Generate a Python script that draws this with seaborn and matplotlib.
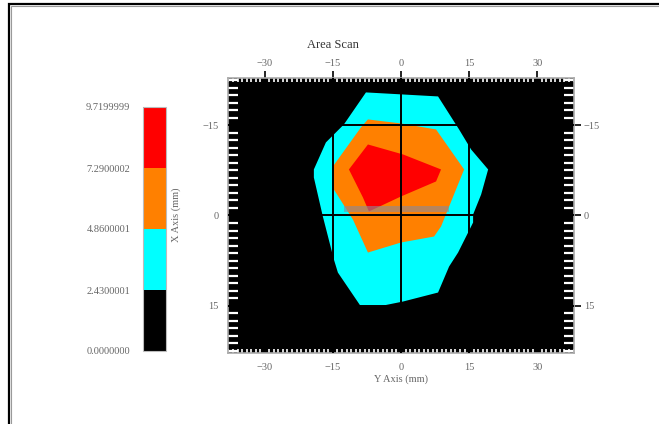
import numpy as np
import matplotlib
matplotlib.use("Agg")
import matplotlib.pyplot as plt
import matplotlib.colors as mcolors
from matplotlib.ticker import MultipleLocator, FixedLocator
from matplotlib.patches import Rectangle
import seaborn as sns

# ---- data (mm) ----
level_bounds = [0.0, 2.4300001, 4.8600001, 7.2900002, 9.7199999]
level_labels = ["0.0000000", "2.4300001", "4.8600001", "7.2900002", "9.7199999"]
level_colors = ["#000000", "#00FFFF", "#FF8000", "#FF0000"]

# contour region outlines (Y axis value, X axis value)
cyan_y = [-7.72, 8.16, 12.79, 15.44, 19.19, 17.65, 15.88, 15.88, 12.57, 10.59, 8.16,
          0.44, -5.07, -8.82, -13.9, -14.78, -17.21, -19.19, -19.19, -16.54, -12.57]
cyan_x = [-20.5, -19.83, -14.33, -11.0, -7.67, -3.5, -0.17, 1.17, 6.17, 8.5, 12.83,
          14.33, 15.17, 15.17, 9.5, 7.33, 0.17, -6.33, -7.67, -12.17, -15.17]

orange_y = [-7.28, 0.0, 7.72, 13.90, 8.82, 7.28, 0.0, -7.28, -10.59, -14.78, -15.0, -8.82]
orange_x = [-16.0, -15.33, -14.33, -7.67, 1.83, 3.5, 4.5, 6.17, 0.67, -4.33, -8.17, -14.67]

red_y = [-7.28, 0.44, 8.82, 7.72, 0.0, -7.06, -8.38, -11.47]
red_x = [-11.83, -10.17, -7.67, -5.67, -3.17, -0.67, -3.0, -7.67]

band_y = [-12.6, 10.6]
band_x = [-1.6, -0.6]

xticks = [-30, -15, 0, 15, 30]
yticks = [-15, 0, 15]

sns.set_theme(style="white")
plt.rcParams['font.family'] = ['Liberation Serif', 'DejaVu Serif']

W, H = 659, 424
fig = plt.figure(figsize=(W / 100, H / 100), dpi=100)
fig.patch.set_facecolor("white")

# window-like frame
fig.patches.append(Rectangle((9 / W, -0.1), 1.2, (H - 4) / H + 0.1, transform=fig.transFigure,
                             fill=False, edgecolor="black", linewidth=1.6, zorder=0))
fig.patches.append(Rectangle((11 / W, -0.1), 1.2, (H - 6) / H + 0.1, transform=fig.transFigure,
                             fill=False, edgecolor="#9a9a9a", linewidth=0.8, zorder=0))

tc = "#666666"

# ---- main axes ----
ax = fig.add_axes([228 / W, (H - 353) / H, 346 / W, 275 / H])
ax.set_facecolor(level_colors[0])
ax.fill(cyan_y, cyan_x, color=level_colors[1], lw=0, zorder=1)
ax.fill(orange_y, orange_x, color=level_colors[2], lw=0, zorder=2)
ax.fill(red_y, red_x, color=level_colors[3], lw=0, zorder=3)
ax.add_patch(Rectangle((band_y[0], band_x[0]), band_y[1] - band_y[0], band_x[1] - band_x[0],
                       facecolor="#8a8a9a", alpha=0.6, lw=0, zorder=4))
for v in yticks:
    ax.axhline(v, color="black", lw=1.4, zorder=5)
for v in [-15, 0, 15]:
    ax.axvline(v, color="black", lw=1.4, zorder=5)

ax.set_xlim(-38.1, 38.1)
ax.set_ylim(22.9, -22.9)
ax.xaxis.set_major_locator(FixedLocator(xticks))
ax.yaxis.set_major_locator(FixedLocator(yticks))
ax.xaxis.set_minor_locator(MultipleLocator(1))
ax.yaxis.set_minor_locator(MultipleLocator(1.25))
ax.tick_params(which="major", direction="out", length=5, width=1.2, color="black",
               labelsize=7.5, labelcolor=tc, top=True, right=True,
               labeltop=True, labelright=True, pad=2)
ax.tick_params(which="minor", direction="in", color="white", top=True, right=True,
               bottom=True, left=True)
ax.tick_params(axis="x", which="minor", length=3, width=1.2)
ax.tick_params(axis="y", which="minor", length=7, width=1.6)
for s in ax.spines.values():
    s.set_color("#aaaaaa")
    s.set_linewidth(1.2)
ax.set_xlabel("Y Axis (mm)", fontsize=7.5, color=tc, labelpad=2)

fig.text(333 / W, 1 - 45 / H, "Area Scan", fontsize=9, color="#333333",
         ha="center", va="center")
fig.text(176 / W, 1 - 215 / H, "X Axis (mm)", rotation=90, fontsize=7.5, color=tc,
         ha="center", va="center")

# ---- colour bar ----
cax = fig.add_axes([143 / W, (H - 351) / H, 23 / W, 244 / H])
cmap = mcolors.ListedColormap(level_colors)
norm = mcolors.BoundaryNorm(level_bounds, cmap.N)
cb = matplotlib.colorbar.ColorbarBase(cax, cmap=cmap, norm=norm, ticks=level_bounds,
                                      orientation="vertical")
cax.yaxis.set_ticks_position("left")
cax.set_yticklabels(level_labels)
cax.tick_params(length=0, labelsize=7.5, labelcolor=tc, pad=9)
cb.outline.set_edgecolor("#bbbbbb")
cb.outline.set_linewidth(0.8)

fig.savefig("out.png", dpi=100)
